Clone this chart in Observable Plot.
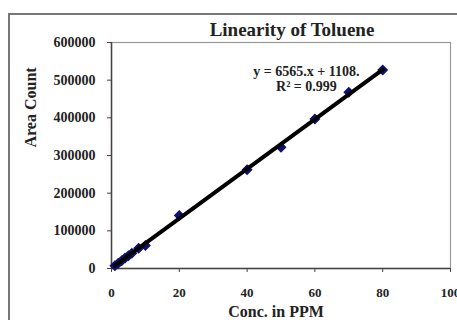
<!DOCTYPE html>
<html>
<head>
<meta charset="utf-8">
<script src="https://cdn.jsdelivr.net/npm/d3@7"></script>
<script src="https://cdn.jsdelivr.net/npm/@observablehq/plot@0.6"></script>
<style>
  body { margin: 0; background: #fff; }
  #wrap { position: relative; width: 457px; height: 320px; overflow: hidden; }
  #border { position: absolute; left: 8px; top: 13px; width: 470px; height: 330px; border: 2px solid #777; box-sizing: border-box; pointer-events: none; }
  svg { font-family: "Liberation Serif", "Times New Roman", serif; font-weight: bold; }
</style>
</head>
<body>
<div id="wrap"><div id="border"></div></div>
<script>
const conc = [1, 2, 3, 4, 5, 6, 8, 10, 20, 40, 50, 60, 70, 80];
const area = [7600, 14200, 20800, 27600, 34000, 40500, 53800, 61000, 141000, 262000, 322000, 397000, 468000, 527000];
const xTicks = [0, 20, 40, 60, 80, 100];
const yTicks = [0, 100000, 200000, 300000, 400000, 500000, 600000];
const titleText = "Linearity of Toluene";
const eqLines = ["y = 6565.x + 1108.", "R² = 0.999"];
const eqPos = {x: 57.5, y: [524000, 484000]};

const data = conc.map((c, i) => ({c, a: area[i]}));
const eqData = eqLines.map((t, i) => ({t, x: eqPos.x, y: eqPos.y[i]}));

const chart = Plot.plot({
  width: 457,
  height: 320,
  marginLeft: 111,
  marginRight: 7,
  marginTop: 42,
  marginBottom: 52,
  style: {fontFamily: "Liberation Serif, serif", fontWeight: "bold", background: "transparent"},
  x: {domain: [0, 100], label: null},
  y: {domain: [0, 600000], label: null},
  marks: [
    Plot.frame({stroke: "#999", strokeWidth: 1.2}),
    Plot.axisX({ticks: xTicks, tickSize: 4, tickPadding: 15, fontSize: 13, fill: "#222", stroke: "#444", tickFormat: d => String(d), label: null}),
    Plot.axisY({ticks: yTicks, tickSize: 4, tickPadding: 12, fontSize: 14, fill: "#222", stroke: "#444", tickFormat: d => String(d), label: null}),
    Plot.ruleY([0], {stroke: "#444", strokeWidth: 1.5}),
    Plot.ruleX([0], {stroke: "#444", strokeWidth: 1.5}),
    Plot.dot(data, {x: "c", y: "a", symbol: "diamond2", r: 4, fill: "#101070", stroke: "#101070"}),
    Plot.linearRegressionY(data, {x: "c", y: "a", stroke: "#000", strokeWidth: 4, ci: 0}),
    Plot.text(eqData, {x: "x", y: "y", text: "t", fontSize: 14, fill: "#222", textAnchor: "middle"}),
    Plot.text([titleText], {frameAnchor: "top", lineAnchor: "middle", dx: 11, dy: -13, fontSize: 19, fill: "#222"}),
    Plot.text(["Area Count"], {frameAnchor: "left", dx: -81, dy: -8, rotate: -90, fontSize: 16, fill: "#222"}),
    Plot.text(["Conc. in PPM"], {frameAnchor: "bottom", lineAnchor: "middle", dx: -5, dy: 43, fontSize: 16, fill: "#222"})
  ]
});
document.getElementById("wrap").prepend(chart);
</script>
</body>
</html>
